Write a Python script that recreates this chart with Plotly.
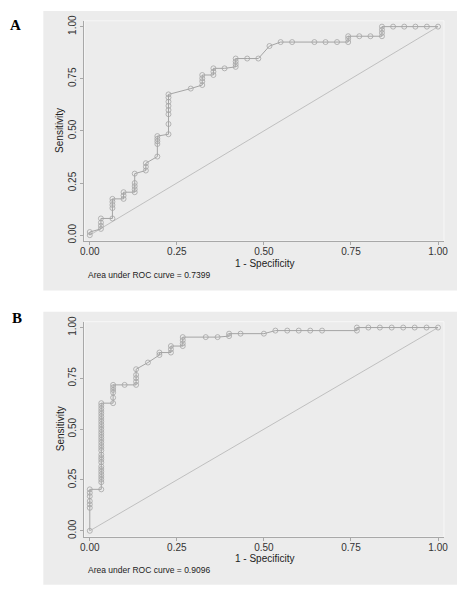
import plotly.graph_objects as go

# ---------------- data ----------------
fpr_a = [0, 0, 0.032, 0.032, 0.032, 0.032, 0.065, 0.065, 0.065, 0.065, 0.065,
         0.097, 0.097, 0.097, 0.129, 0.129, 0.129, 0.129, 0.129,
         0.161, 0.161, 0.161, 0.194, 0.194, 0.194, 0.194, 0.194,
         0.226, 0.226, 0.226, 0.226, 0.226, 0.226, 0.226, 0.226,
         0.29, 0.323, 0.323, 0.323, 0.323, 0.355, 0.355, 0.355, 0.387,
         0.419, 0.419, 0.419, 0.419, 0.452, 0.484, 0.516, 0.548, 0.581,
         0.645, 0.677, 0.71, 0.742, 0.742, 0.742, 0.774, 0.806,
         0.839, 0.839, 0.839, 0.839, 0.871, 0.903, 0.935, 0.968, 1.0]
tpr_a = [0, 0.015, 0.03, 0.045, 0.06, 0.08, 0.08, 0.13, 0.145, 0.16, 0.174,
         0.174, 0.19, 0.206, 0.206, 0.22, 0.235, 0.25, 0.295,
         0.31, 0.328, 0.345, 0.377, 0.437, 0.45, 0.462, 0.475,
         0.484, 0.533, 0.58, 0.6, 0.62, 0.64, 0.66, 0.675,
         0.703, 0.72, 0.738, 0.752, 0.768, 0.768, 0.784, 0.8, 0.8,
         0.807, 0.82, 0.833, 0.847, 0.847, 0.847, 0.907, 0.926, 0.926,
         0.926, 0.926, 0.926, 0.926, 0.942, 0.954, 0.954, 0.954,
         0.954, 0.97, 0.985, 1.0, 1.0, 1.0, 1.0, 1.0, 1.0]

fpr_b = [0, 0, 0, 0, 0, 0, 0,
         0.033, 0.033, 0.033, 0.033, 0.033, 0.033, 0.033, 0.033, 0.033, 0.033,
         0.033, 0.033, 0.033, 0.033, 0.033, 0.033, 0.033, 0.033, 0.033, 0.033,
         0.033, 0.033, 0.033, 0.033, 0.033, 0.033, 0.033, 0.033, 0.033, 0.033,
         0.033,
         0.067, 0.067, 0.067, 0.067, 0.067, 0.067, 0.1,
         0.133, 0.133, 0.133, 0.133, 0.133, 0.167, 0.2, 0.2,
         0.233, 0.233, 0.233, 0.267, 0.267, 0.267, 0.267,
         0.333, 0.367, 0.4, 0.4, 0.433, 0.5, 0.533, 0.567, 0.6, 0.633, 0.667,
         0.767, 0.767, 0.8, 0.833, 0.867, 0.9, 0.933, 0.967, 1.0]
tpr_b = [0, 0.113, 0.13, 0.146, 0.17, 0.187, 0.204,
         0.204, 0.239, 0.252, 0.265, 0.278, 0.291, 0.304, 0.317, 0.337, 0.35,
         0.362, 0.375, 0.395, 0.408, 0.421, 0.434, 0.447, 0.46, 0.472, 0.485,
         0.498, 0.511, 0.524, 0.537, 0.55, 0.563, 0.576, 0.589, 0.602, 0.615,
         0.628,
         0.628, 0.655, 0.68, 0.693, 0.706, 0.718, 0.718,
         0.718, 0.734, 0.751, 0.767, 0.795, 0.828, 0.865, 0.877,
         0.877, 0.893, 0.909, 0.909, 0.922, 0.938, 0.953,
         0.953, 0.953, 0.958, 0.97, 0.97, 0.97, 0.985, 0.985, 0.985, 0.985, 0.985,
         0.985, 1.0, 1.0, 1.0, 1.0, 1.0, 1.0, 1.0, 1.0]

ref_line = [0, 1]
tick_vals = [0, 0.25, 0.5, 0.75, 1.0]
tick_text = ["0.00", "0.25", "0.50", "0.75", "1.00"]
panel_labels = ["A", "B"]
auc_texts = ["Area under ROC curve = 0.7399", "Area under ROC curve = 0.9096"]
x_title = "1 - Specificity"
y_title = "Sensitivity"

# ---------------- layout geometry (pixels) ----------------
W, H = 462, 591
BG = "#ececec"
CURVE = "#a4a4a4"
AXC = "#a8a8a8"
FONT = "Liberation Sans, Arial, sans-serif"

def px(x):
    return x / W

def py(y):
    return 1 - y / H

panels = [
    dict(box=(40, 5, 461, 288.3), plot=(81.7, 15, 447.7, 238.3),
         yr=(-0.0284, 1.028), lab=(11.5, 19), auc_y=272.7, xt_y=261, yc=126.6),
    dict(box=(40, 310, 461, 586.7), plot=(81.7, 320, 447.7, 538.3),
         yr=(-0.0306, 1.029), lab=(13, 316), auc_y=571.7, xt_y=560.3, yc=429),
]
xr = (-0.0158, 1.017)

fig = go.Figure()
shapes, annotations = [], []
layout = dict(width=W, height=H, margin=dict(l=0, r=0, t=0, b=0),
              paper_bgcolor="white", plot_bgcolor="rgba(0,0,0,0)",
              showlegend=False)

datasets = [(fpr_a, tpr_a), (fpr_b, tpr_b)]
for i, (p, (fx, fy)) in enumerate(zip(panels, datasets)):
    sfx = "" if i == 0 else str(i + 1)
    xa, ya = "x" + sfx, "y" + sfx
    bx0, by0, bx1, by1 = p["box"]
    qx0, qy0, qx1, qy1 = p["plot"]
    shapes.append(dict(type="rect", xref="paper", yref="paper",
                       x0=px(bx0), x1=px(bx1), y0=py(by1), y1=py(by0),
                       fillcolor=BG, line=dict(width=0), layer="below"))
    shapes.append(dict(type="rect", xref="paper", yref="paper",
                       x0=px(qx0), x1=px(qx1), y0=py(qy1), y1=py(qy0),
                       fillcolor=BG, line=dict(color="#f7f7f7", width=1), layer="below"))
    fig.add_trace(go.Scatter(x=ref_line, y=ref_line, mode="lines",
                             line=dict(color="#b4b4b4", width=0.8),
                             xaxis=xa, yaxis=ya, hoverinfo="skip"))
    fig.add_trace(go.Scatter(x=fx, y=fy, mode="lines+markers",
                             line=dict(color=CURVE, width=1),
                             marker=dict(symbol="circle-open", size=5,
                                         color=CURVE, line=dict(width=0.8, color=CURVE)),
                             xaxis=xa, yaxis=ya))
    common = dict(showgrid=False, zeroline=False, showline=True, linecolor=AXC,
                  linewidth=1, ticks="outside", ticklen=3, tickcolor=AXC,
                  tickwidth=1, tickvals=tick_vals, ticktext=tick_text,
                  tickfont=dict(family=FONT, size=10, color="#333333"))
    layout["xaxis" + sfx] = dict(common, domain=[px(qx0), px(qx1)], range=list(xr),
                                 anchor=ya, ticklabelstandoff=-2)
    layout["yaxis" + sfx] = dict(common, domain=[py(qy1), py(qy0)], range=list(p["yr"]),
                                 anchor=xa, tickangle=-90)
    annotations.append(dict(xref="paper", yref="paper", x=px(p["lab"][0]), y=py(p["lab"][1]),
                            text="<b>%s</b>" % panel_labels[i], showarrow=False,
                            xanchor="center", yanchor="middle",
                            font=dict(family="Liberation Serif, Times New Roman, serif",
                                      size=15, color="black")))
    annotations.append(dict(xref="paper", yref="paper", x=px(83), y=py(p["auc_y"]),
                            text=auc_texts[i], showarrow=False, xanchor="left",
                            yanchor="middle", font=dict(family=FONT, size=8.5, color="#222222")))
    annotations.append(dict(xref="paper", yref="paper", x=px((qx0 + qx1) / 2), y=py(p["xt_y"]),
                            text=x_title, showarrow=False, xanchor="center",
                            yanchor="middle", font=dict(family=FONT, size=10, color="#222222")))
    annotations.append(dict(xref="paper", yref="paper", x=px(57), y=py(p["yc"]),
                            text=y_title, showarrow=False, textangle=-90,
                            xanchor="center", yanchor="middle",
                            font=dict(family=FONT, size=10, color="#222222")))

layout["shapes"] = shapes
layout["annotations"] = annotations
fig.update_layout(**layout)
fig.write_html("out.html", config={"displayModeBar": False},
               post_script="document.body.style.margin='0';document.body.style.overflow='hidden';")
